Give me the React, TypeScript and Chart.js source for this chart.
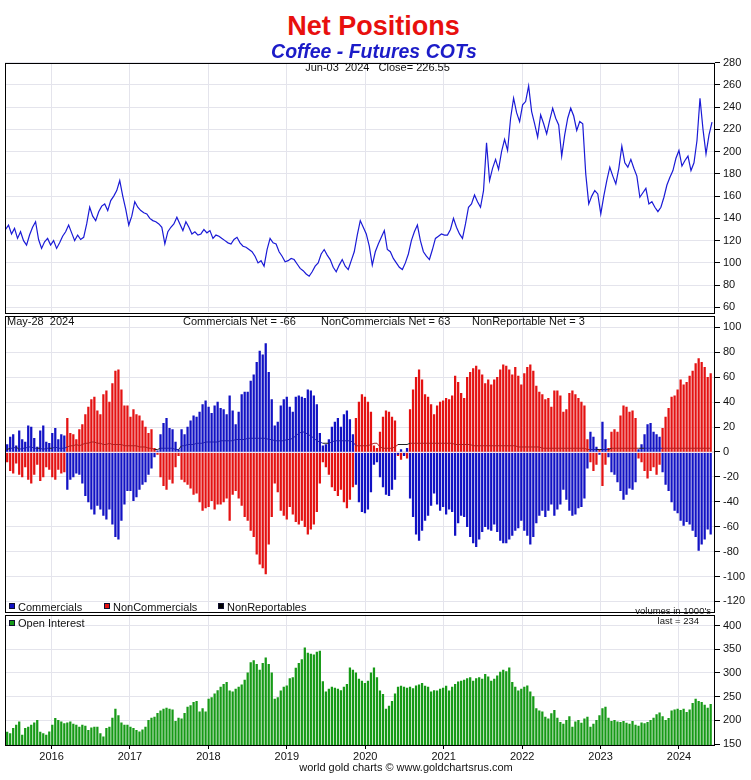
import React, { useEffect, useRef } from 'react';
import { Chart, registerables } from 'chart.js';

Chart.register(...registerables);

const FONT = "'Liberation Sans', Arial, Helvetica, sans-serif";
const GRID = '#e4e4ec';
const BLUE = '#1212c4';
const RED = '#e41212';
const GREEN = '#169a16';
const PRICE_BLUE = '#1a1ad6';
const BAR_W = 1.6;

const YEARS = [2016, 2017, 2018, 2019, 2020, 2021, 2022, 2023, 2024];
const PRICE_TICKS = [60, 80, 100, 120, 140, 160, 180, 200, 220, 240, 260, 280];
const NET_TICKS = [-120, -100, -80, -60, -40, -20, 0, 20, 40, 60, 80, 100];
const OI_TICKS = [150, 200, 250, 300, 350, 400];

const LAST_REPORT = 2024.404; // May-28 2024
const LAST_CLOSE = 2024.421; // Jun-03 2024
const STEP = 14 / 365.25; // bi-weekly samples
const X_MIN = 2015.407;
const X_MAX = 2024.459;

const PRICE = [
  130, 134, 126, 131, 122, 128, 120, 116, 125, 132,
  137, 121, 113, 119, 122, 116, 120, 113, 118, 124,
  128, 134, 127, 120, 125, 121, 123, 135, 150, 142,
  138, 146, 151, 153, 147, 156, 160, 165, 174, 160,
  148, 134, 142, 155, 150, 147, 145, 144, 140, 138,
  137, 135, 132, 117, 128, 132, 135, 141, 135, 129,
  137, 132, 126, 128, 125, 126, 130, 127, 129, 122,
  125, 124, 122, 120, 118, 117, 121, 123, 118, 115,
  114, 112, 110, 106, 100, 102, 97, 112, 122, 118,
  117, 110, 106, 101, 102, 104, 103, 99, 95, 93,
  90, 88, 92, 97, 100, 108, 112, 107, 103, 96,
  92, 98, 103, 97, 94, 102, 110, 125, 138, 132,
  126, 115, 98, 110, 117, 123, 129, 112, 110, 104,
  100, 96, 94, 100, 108, 120, 128, 134, 120, 110,
  106, 103, 112, 122, 124, 126, 125, 125, 130, 140,
  132, 126, 122, 135, 150, 153, 161, 155, 150, 165,
  208, 174, 185, 193, 184, 200, 211, 201, 230, 248,
  235, 227, 242, 245, 259, 236, 225, 213, 233, 225,
  216, 228, 239, 230, 224, 196, 215, 230, 239, 232,
  219, 227, 225, 180, 153, 160, 165, 162, 144, 160,
  174, 186, 178, 171, 185, 205, 190, 186, 193, 185,
  178, 159, 163, 167, 153, 155, 150, 146, 150, 159,
  170, 177, 183, 194, 201, 187, 192, 196, 183, 190,
  210, 248, 220, 198, 215, 226.55,
];

const COMMERCIALS = [
  11, 6, 12, 14, 5, 17, 10, 8, 21, 20, 11, 4, 17, 21, 8, 7, 15, 19, 10, 14, 13,
  -30, -22, -20, -17, -18, -25, -35, -40, -46, -50, -43, -46, -51, -54, -46, -58, -68, -70, -55, -42, -31, -31, -39, -36, -30, -26, -24, -18, -13,
  -4, 1, 14, 23, 27, 19, 18, 8, 2,
  18, 14, 20, 25, 29, 28, 32, 38, 41, 36, 31, 37, 40, 35, 34, 30, 45, 33, 22, 32, 46, 48, 48, 57, 62, 72, 81, 78, 87, 64,
  42, 21, 24, 37, 42, 44, 36, 32, 44, 45, 44, 43, 50, 49, 45, 38, 15, 5, 6, 10, 20, 24, 27, 20, 30, 33, 26, 14,
  -26, -40, -48, -49, -46, -32, -10, -8, -20, -28, -34, -35, -30, -22, -2, 2, -3, 3,
  -37, -52, -66, -71, -63, -55, -51, -43, -33, -42, -47, -44, -50, -46, -48, -67, -57, -51, -52, -60, -68, -73, -76, -70, -64, -60, -62, -63, -58, -64,
  -71, -73, -73, -70, -67, -63, -61, -55, -63, -67, -74, -68, -57, -51, -47, -52, -47, -42, -51, -46, -42, -30, -38, -47, -51, -50, -45, -44, -37,
  -13, 16, 12, 4, -2, 24, 10, -4, -16, -18, -24, -31, -38, -34, -29, -30, -24, 2, 6, 14, 22, 23, 16, 14, 12,
  -16, -26, -31, -40, -47, -49, -55, -59, -56, -58, -63, -68, -79, -74, -70, -62, -66,
];

const NONCOMMERCIALS = [
  -10, -8, -15, -17, -9, -18, -20, -12, -22, -25, -18, -10, -23, -20, -12, -14, -20, -22, -14, -17, -16,
  27, 15, 14, 10, 18, 22, 30, 36, 42, 44, 33, 30, 46, 49, 40, 55, 65, 66, 50, 37, 37, 28, 34, 30, 29, 25, 20, 15, 18,
  3, -2, -20, -27, -30, -22, -25, -12, -3,
  -22, -24, -26, -29, -34, -33, -40, -47, -45, -44, -39, -46, -42, -42, -40, -37, -55, -34, -31, -37,
  -43, -52, -55, -63, -68, -82, -90, -93, -98, -74, -52, -25, -32, -47, -51, -54, -44, -50, -56, -58,
  -55, -60, -66, -62, -58, -48, -25, -8, -12, -18, -28, -31, -35, -30, -40, -45, -38, -28,
  27, 40, 46, 44, 40, 32, 5, 3, 16, 28, 33, 32, 28, 25, -3, -6, -2, -5,
  34, 50, 60, 66, 58, 46, 44, 38, 30, 37, 40, 41, 43, 42, 45, 61, 56, 47, 43, 60,
  64, 67, 69, 66, 62, 55, 58, 54, 58, 60, 66, 70, 69, 66, 62, 68, 61, 54, 63, 68,
  70, 65, 53, 48, 46, 42, 43, 36, 49, 49, 45, 32, 34, 47, 49, 46, 43, 40, 37,
  10, -8, -15, -10, 2, -27, -10, 3, 16, 18, 16, 29, 37, 36, 32, 33, 27, -5, -8, -15,
  -21, -15, -12, -18, -10, 19, 28, 35, 44, 45, 50, 58, 54, 56, 61, 65, 71, 75, 72, 68, 60, 63,
];

const NONREPORTABLES = [
  3, 2, 3, 3, 4, 2, 3, 3, 4, 4, 3, 3, 3, 2, 3, 3, 3, 4, 3, 3, 3,
  4, 5, 5, 6, 5, 6, 7, 7, 8, 8, 7, 7, 6, 6, 7, 6, 6, 6, 6, 5, 5, 5, 5, 5, 4, 4, 4, 3, 3,
  2, 2, 3, 3, 3, 3, 3, 2, 2,
  5, 5, 6, 6, 6, 7, 7, 7, 8, 8, 8, 8, 8, 9, 9, 9, 9, 9, 10, 10,
  10, 10, 11, 11, 11, 11, 11, 11, 11, 10, 10, 9, 9, 9, 9, 10, 10, 11, 13, 15,
  16, 16, 14, 13, 11, 9, 8, 7, 7, 7, 8, 9, 9, 9, 9, 9, 9, 8,
  5, 5, 5, 5, 5, 6, 7, 7, 4, 3, 3, 3, 3, 4, 6, 6, 6, 6,
  7, 7, 7, 7, 7, 7, 7, 7, 7, 7, 7, 7, 7, 7, 7, 6, 6, 6, 6, 6, 6,
  5, 5, 5, 5, 5, 5, 5, 5, 5, 5, 5, 5, 5, 5, 5, 4, 4, 4, 4, 4, 4, 4, 4,
  3, 3, 3, 3, 3, 3, 3, 3, 3, 3, 3, 3, 3, 3, 3,
  2, 2, 2, 2, 2, 2, 2, 2, 3, 3, 3, 3, 3, 3, 3, 3, 3, 3, 3, 3, 3,
  3, 3, 3, 3, 3, 3, 3, 3, 3, 3, 3, 3, 3, 3, 3, 3, 3, 3, 3, 3, 3,
];

const OPEN_INTEREST = [
  193, 175, 172, 183, 190, 197, 169, 183, 186, 190,
  195, 200, 175, 172, 169, 176, 190, 204, 200, 197,
  193, 195, 197, 192, 190, 186, 190, 188, 179, 184,
  186, 186, 172, 165, 183, 186, 205, 224, 210, 195,
  190, 190, 186, 183, 179, 176, 180, 186, 200, 205,
  207, 215, 220, 224, 226, 224, 222, 198, 205, 203,
  215, 228, 231, 238, 240, 218, 225, 218, 245, 248,
  256, 263, 270, 276, 280, 262, 260, 266, 270, 275,
  285, 300, 322, 326, 318, 306, 320, 332, 318, 300,
  245, 248, 262, 270, 273, 288, 290, 310, 320, 328,
  353, 342, 340, 338, 344, 346, 282, 260, 266, 270,
  268, 266, 263, 270, 276, 311, 306, 300, 287, 283,
  278, 283, 300, 311, 290, 262, 255, 224, 230, 240,
  256, 270, 272, 270, 268, 270, 267, 273, 275, 278,
  272, 270, 260, 263, 262, 266, 268, 272, 262, 270,
  276, 281, 283, 285, 288, 290, 283, 288, 290, 287,
  297, 292, 283, 287, 294, 302, 306, 303, 311, 280,
  270, 262, 266, 270, 273, 260, 250, 225, 220, 218,
  207, 203, 214, 221, 205, 196, 192, 200, 208, 186,
  197, 200, 194, 203, 207, 186, 192, 200, 210, 225,
  228, 205, 198, 200, 197, 196, 198, 194, 192, 198,
  190, 188, 195, 193, 196, 200, 205, 212, 216, 208,
  200, 204, 220, 222, 224, 221, 224, 217, 222, 236,
  245, 240, 238, 232, 226, 234,
];

const N = COMMERCIALS.length;
const REPORT_DATES = COMMERCIALS.map((_, i) => LAST_REPORT - (N - 1 - i) * STEP);
const PRICE_DATES = PRICE.map((_, i) => LAST_CLOSE - (PRICE.length - 1 - i) * STEP);

const frame = {
  id: 'frame',
  afterDraw(chart: any) {
    const { ctx, chartArea: a } = chart;
    ctx.save();
    ctx.strokeStyle = '#000';
    ctx.lineWidth = 1;
    ctx.strokeRect(Math.round(a.left) + 0.5, Math.round(a.top) + 0.5, Math.round(a.width) - 1, Math.round(a.height));
    ctx.restore();
  },
};

const zeroLine = {
  id: 'zeroLine',
  afterDatasetsDraw(chart: any) {
    const { ctx, chartArea: a, scales } = chart;
    const y = Math.round(scales.y.getPixelForValue(0)) + 0.5;
    ctx.save();
    ctx.strokeStyle = '#f2e4ee';
    ctx.lineWidth = 1;
    ctx.beginPath();
    ctx.moveTo(a.left, y);
    ctx.lineTo(a.right, y);
    ctx.stroke();
    ctx.restore();
  },
};

const yAxis = (min: number, max: number, ticks: number[]) => ({
  position: 'right',
  min,
  max,
  afterBuildTicks: (s: any) => {
    s.ticks = ticks.map((v) => ({ value: v }));
  },
  afterFit: (s: any) => {
    s.width = 36;
  },
  ticks: { color: '#111', font: { size: 11, family: FONT }, padding: 3, autoSkip: false, callback: (v: any) => String(v) },
  grid: { color: GRID, tickColor: '#000', tickLength: 5, drawTicks: true },
  border: { display: false },
});

const xAxis = (showLabels: boolean) => ({
  type: 'linear',
  min: X_MIN,
  max: X_MAX,
  offset: false,
  afterBuildTicks: (s: any) => {
    s.ticks = YEARS.map((v) => ({ value: v }));
  },
  afterFit: (s: any) => {
    s.height = showLabels ? 20 : 0;
  },
  ticks: {
    display: showLabels,
    autoSkip: false,
    maxRotation: 0,
    padding: 1,
    color: '#111',
    font: { size: 11, family: FONT },
    callback: (v: any) => String(v),
  },
  grid: { color: GRID, drawTicks: showLabels, tickLength: 4, tickColor: '#000', offset: false },
  border: { display: false },
});

const baseOptions = (padBottom: number) => ({
  animation: false,
  responsive: false,
  maintainAspectRatio: false,
  layout: { padding: { top: 8, bottom: padBottom, left: 0, right: 0 }, autoPadding: false },
  plugins: { legend: { display: false }, tooltip: { enabled: false } },
});

const nonRepColor = (i: number) => {
  const c = COMMERCIALS[i];
  if (Math.abs(c) < 8) return '#202020';
  return c > 0 ? '#2020b0' : '#b02020';
};

export default function App() {
  const topRef = useRef<HTMLCanvasElement>(null);
  const midRef = useRef<HTMLCanvasElement>(null);
  const botRef = useRef<HTMLCanvasElement>(null);

  useEffect(() => {
    Chart.defaults.font.family = FONT;
    const top = new Chart(topRef.current as HTMLCanvasElement, {
      type: 'line',
      data: {
        datasets: [
          {
            data: PRICE.map((y, i) => ({ x: PRICE_DATES[i], y })),
            borderColor: PRICE_BLUE,
            borderWidth: 1.2,
            pointRadius: 0,
            tension: 0,
          },
        ],
      },
      options: {
        ...baseOptions(8),
        scales: { x: xAxis(false), y: yAxis(55.5, 280, PRICE_TICKS) },
      } as any,
      plugins: [frame],
    });

    const mid = new Chart(midRef.current as HTMLCanvasElement, {
      type: 'bar',
      data: {
        datasets: [
          {
            type: 'line',
            data: NONREPORTABLES.map((y, i) => ({ x: REPORT_DATES[i], y })),
            borderColor: '#202020',
            borderWidth: 1,
            pointRadius: 0,
            order: 0,
            segment: { borderColor: (c: any) => nonRepColor(c.p0DataIndex) },
          } as any,
          {
            type: 'bar',
            data: COMMERCIALS.map((y, i) => ({ x: REPORT_DATES[i], y })),
            backgroundColor: BLUE,
            barThickness: BAR_W,
            grouped: false,
            order: 1,
          },
          {
            type: 'bar',
            data: NONCOMMERCIALS.map((y, i) => ({ x: REPORT_DATES[i], y })),
            backgroundColor: RED,
            barThickness: BAR_W,
            grouped: false,
            order: 2,
          },
        ],
      },
      options: {
        ...baseOptions(8),
        scales: { x: xAxis(false), y: yAxis(-128, 109.5, NET_TICKS) },
      } as any,
      plugins: [zeroLine, frame],
    });

    const bot = new Chart(botRef.current as HTMLCanvasElement, {
      type: 'bar',
      data: {
        datasets: [
          {
            data: OPEN_INTEREST.map((y, i) => ({ x: REPORT_DATES[i], y })),
            backgroundColor: GREEN,
            barThickness: BAR_W,
            grouped: false,
          },
        ],
      },
      options: {
        ...baseOptions(15),
        scales: { x: xAxis(true), y: yAxis(148, 423, OI_TICKS) },
      } as any,
      plugins: [frame],
    });

    return () => {
      top.destroy();
      mid.destroy();
      bot.destroy();
    };
  }, []);

  const txt = (left: number, top: number, s: string, size = 11, extra: any = {}) => (
    <div style={{ position: 'absolute', left, top, fontSize: size, lineHeight: `${size}px`, whiteSpace: 'pre', ...extra }}>{s}</div>
  );
  const rtxt = (right: number, top: number, s: string, size = 11) => (
    <div style={{ position: 'absolute', right: 751 - right, top, fontSize: size, lineHeight: `${size}px`, whiteSpace: 'pre' }}>{s}</div>
  );
  const square = (left: number, top: number, color: string) => (
    <div style={{ position: 'absolute', left, top, width: 4, height: 4, background: color, border: '1px solid #101030' }} />
  );
  const canvasStyle = (top: number, height: number) => ({ position: 'absolute' as const, left: 5, top, width: 746, height, display: 'block' });

  return (
    <div
      style={{
        position: 'absolute',
        left: 0,
        top: 0,
        width: 751,
        height: 780,
        background: '#fff',
        overflow: 'hidden',
        fontFamily: FONT,
        color: '#111',
      }}
    >
      <canvas ref={topRef} width={746} height={269} style={canvasStyle(53, 269)} />
      <canvas ref={midRef} width={746} height={315} style={canvasStyle(306, 315)} />
      <canvas ref={botRef} width={746} height={175} style={canvasStyle(605, 175)} />

      <div
        style={{
          position: 'absolute',
          left: 0,
          width: 747,
          top: 13,
          textAlign: 'center',
          fontSize: 27,
          lineHeight: '27px',
          fontWeight: 'bold',
          color: '#e8100e',
        }}
      >
        Net Positions
      </div>
      <div
        style={{
          position: 'absolute',
          left: 0,
          width: 748,
          top: 42,
          textAlign: 'center',
          fontSize: 19.5,
          lineHeight: '19.5px',
          fontWeight: 'bold',
          fontStyle: 'italic',
          color: '#1c1cc8',
        }}
      >
        Coffee - Futures COTs
      </div>

      <div style={{ position: 'absolute', left: 0, width: 755, top: 62, textAlign: 'center', fontSize: 11, lineHeight: '11px', whiteSpace: 'pre' }}>
        {'Jun-03  2024   Close= 226.55'}
      </div>

      {txt(7, 315.5, 'May-28  2024')}
      {txt(183, 315.5, 'Commercials Net = -66')}
      {txt(321, 315.5, 'NonCommercials Net = 63')}
      {txt(472, 315.5, 'NonReportable Net = 3')}

      {square(9, 603, BLUE)}
      {txt(18, 601.5, 'Commercials')}
      {square(104, 603, RED)}
      {txt(113, 601.5, 'NonCommercials')}
      {square(218, 603, '#000')}
      {txt(227, 601.5, 'NonReportables')}
      {rtxt(711, 605.5, "volumes in 1000's", 9.5)}

      {square(9, 620, GREEN)}
      {txt(18, 617.5, 'Open Interest')}
      {rtxt(699, 615.5, 'last = 234', 9.5)}

      <div style={{ position: 'absolute', left: 0, width: 812, top: 762, textAlign: 'center', fontSize: 11, lineHeight: '11px', whiteSpace: 'pre' }}>
        {'world gold charts \u00a9 www.goldchartsrus.com'}
      </div>
    </div>
  );
}
